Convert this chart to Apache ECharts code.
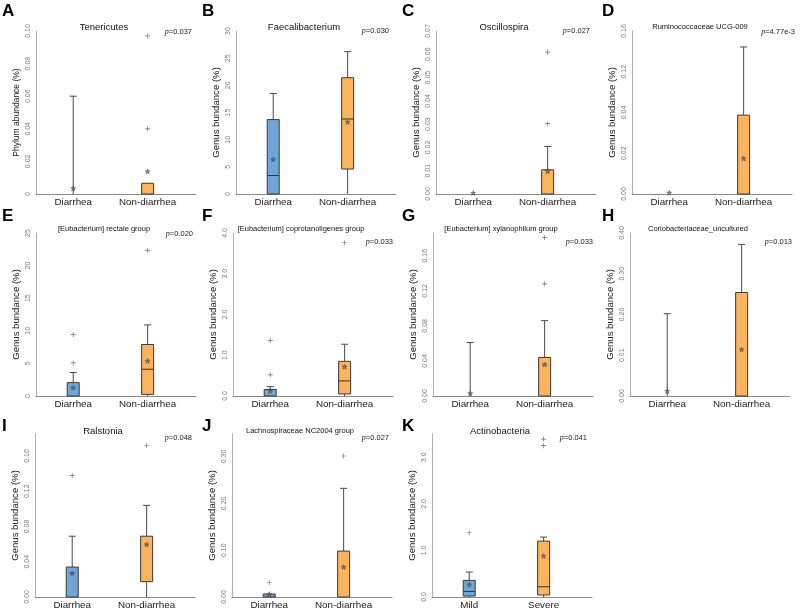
<!DOCTYPE html>
<html>
<head>
<meta charset="utf-8">
<script src="https://cdn.jsdelivr.net/npm/echarts@6/dist/echarts.min.js"></script>
<style>html,body{margin:0;padding:0;background:#fff}#c{width:800px;height:610px}</style>
</head>
<body>
<div id="c"></div>
<script>
// ---------- data ----------
const panelLetters = ['A','B','C','D','E','F','G','H','I','J','K'];
const panelTitles = ['Tenericutes','Faecalibacterium','Oscillospira','Ruminococcaceae UCG-009',
  '[Eubacterium] rectale group','[Eubacterium] coprotanoligenes group','[Eubacterium] xylanophilum group',
  'Coriobacteriaceae_uncultured','Ralstonia','Lachnospiraceae NC2004 group','Actinobacteria'];
const pValues = ['0.037','0.030','0.027','4.77e-3','0.020','0.033','0.033','0.013','0.048','0.027','0.041'];
const yNames = ['Phylum abundance (%)','Genus bundance (%)','Genus bundance (%)','Genus bundance (%)',
  'Genus bundance (%)','Genus bundance (%)','Genus bundance (%)','Genus bundance (%)',
  'Genus bundance (%)','Genus bundance (%)','Genus bundance (%)'];
const groupNames = [
  ['Diarrhea','Non-diarrhea'],['Diarrhea','Non-diarrhea'],['Diarrhea','Non-diarrhea'],['Diarrhea','Non-diarrhea'],
  ['Diarrhea','Non-diarrhea'],['Diarrhea','Non-diarrhea'],['Diarrhea','Non-diarrhea'],['Diarrhea','Non-diarrhea'],
  ['Diarrhea','Non-diarrhea'],['Diarrhea','Non-diarrhea'],['Mild','Severe']];
// axis ranges and tick labels (labels as printed in the figure)
const yMax  = [0.10, 30, 0.07, 0.16, 25, 4.0, 0.186, 0.40, 0.185, 0.348, 3.5];
const yStep = [0.02, 5, 0.01, 0.04, 5, 1.0, 0.04, 0.10, 0.04, 0.10, 1.0];
const yTickLabels = [
  ['0','0.02','0.04','0.06','0.08','0.10'],
  ['0','5','10','15','20','25','30'],
  ['0.00','0.01','0.02','0.03','0.04','0.05','0.06','0.07'],
  ['0.00','0.02','0.04','0.12','0.16'],
  ['0','5','10','15','20','25'],
  ['0.0','1.0','2.0','3.0','4.0'],
  ['0.00','0.04','0.08','0.12','0.16'],
  ['0.00','0.01','0.20','0.30','0.40'],
  ['0.00','0.04','0.08','0.12','0.16'],
  ['0.00','0.10','0.20','0.30'],
  ['0.0','1.0','2.0','3.0']];
// box statistics per group: [min, Q1, median, Q3, max]
const boxStats = [
  [[0,0,0,0,0.060],[0,0,0,0.0066,0.0066]],
  [[0,0,3.4,13.7,18.5],[0,4.6,13.8,21.4,26.2]],
  [[0,0,0,0,0],[0,0,0,0.0104,0.0204]],
  [[0,0,0,0,0],[0,0,0,0.0774,0.1443]],
  [[0,0,0,2.05,3.6],[0,0.25,4.1,7.9,10.9]],
  [[0,0,0,0.16,0.23],[0,0.05,0.37,0.85,1.27]],
  [[0,0,0,0,0.061],[0,0,0,0.044,0.086]],
  [[0,0,0,0,0.202],[0,0,0,0.254,0.372]],
  [[0,0,0,0.034,0.069],[0,0.0174,0.0174,0.069,0.104]],
  [[0,0,0,0.0064,0.0064],[0,0,0,0.098,0.232]],
  [[0,0.02,0.12,0.357,0.536],[0,0.043,0.22,1.2,1.286]]];
const meanValues = [
  [0.0035,0.0138],[6.4,13.25],[0.0004,0.0098],[0.0012,0.0349],[1.28,5.38],[0.13,0.72],
  [0.003,0.036],[0.012,0.114],[0.027,0.0596],[0.006,0.064],[0.264,0.88]];
const outlierValues = [
  [[],[0.097,0.040]],
  [[],[]],
  [[],[0.0302,0.0609]],
  [[],[]],
  [[5.07,9.45],[22.3]],
  [[0.52,1.36],[3.76]],
  [[],[0.128,0.181]],
  [[],[]],
  [[0.138],[0.172]],
  [[0.031],[0.301]],
  [[1.38],[3.25,3.39]]];

// ---------- layout ----------
const groupColors = ['#6fa6d6','#fbb35e'];
const rowTop = [31, 233, 434];
const rowH = [163, 163, 164];
const colLeft = [[36,236,436,632],[36,233,433,630],[35,232,432]];
const colStart = [0,200,400,600];
const letterY = [11, 216, 426];
const titleY = [27, 229, 431];
const pY = [[32,31,31,32],[234,242,242,242],[438,438,438]];
const pRight = [[192,389,590,795],[193,393,593,792],[192,389,587]];
const smallTitle = [false,false,false,true,true,true,true,true,false,true,false];
const GW = 160, XMAX = 2.15;

const grids = [], xAxes = [], yAxes = [], series = [], graphics = [];
const starPath = 'path://M5,0L6.2,3.8L10,3.8L6.9,6.1L8.1,10L5,7.6L1.9,10L3.1,6.1L0,3.8L3.8,3.8Z';
const plusPath = 'path://M4.35,0h1.3v4.35h4.35v1.3h-4.35v4.35h-1.3v-4.35h-4.35v-1.3h4.35z';

for (let i = 0; i < 11; i++) {
  const r = Math.floor(i / 4), c = i % 4;
  const left = colLeft[r][c];
  grids.push({left: left, top: rowTop[r], width: GW, height: rowH[r], containLabel: false});
  const names = groupNames[i];
  xAxes.push({
    gridIndex: i, type: 'value', min: 0, max: XMAX, interval: 0.5,
    axisLine: {show: true, lineStyle: {color: '#8a8a8a', width: 1}},
    axisTick: {show: false}, splitLine: {show: false},
    axisLabel: {
      margin: 3, fontSize: 9.8, color: '#222', fontFamily: 'Liberation Sans, Arial',
      showMaxLabel: false,
      formatter: function (v) {
        if (Math.abs(v - 0.5) < 1e-6) return names[0];
        if (Math.abs(v - 1.5) < 1e-6) return names[1];
        return '';
      }
    }
  });
  const labels = yTickLabels[i], step = yStep[i];
  yAxes.push({
    gridIndex: i, type: 'value', min: 0, max: yMax[i], interval: step,
    name: yNames[i], nameLocation: 'middle', nameGap: 15,
    nameTextStyle: {fontSize: (i === 0 ? 8.5 : 9.6), color: '#222', fontFamily: 'Liberation Sans, Arial'},
    axisLine: {show: true, lineStyle: {color: '#b0b0b0', width: 1}},
    axisTick: {show: false}, splitLine: {show: false},
    axisLabel: {
      rotate: 90, margin: 4, fontSize: 7, color: '#7a7a7a', fontFamily: 'Liberation Sans, Arial',
      showMaxLabel: true,
      formatter: function (v) {
        const k = Math.round(v / step);
        if (Math.abs(k * step - v) > step * 1e-3) return '';
        return labels[k] !== undefined ? labels[k] : '';
      }
    }
  });
  // boxes
  const boxData = boxStats[i].map((s, g) => [g + 0.5, s[0], s[1], s[2], s[3], s[4], g]);
  series.push({
    type: 'custom', xAxisIndex: i, yAxisIndex: i, data: boxData, clip: false, z: 2,
    renderItem: function (params, api) {
      const xv = api.value(0);
      const x = api.coord([xv, 0])[0];
      const yMin = api.coord([xv, api.value(1)])[1];
      const yQ1 = api.coord([xv, api.value(2)])[1];
      const yMed = api.coord([xv, api.value(3)])[1];
      const yQ3 = api.coord([xv, api.value(4)])[1];
      const yMx = api.coord([xv, api.value(5)])[1];
      const g = api.value(6);
      const hw = 6, cw = 3.5;
      const wl = {stroke: '#4a4a4a', lineWidth: 1};
      const ch = [];
      if (yMx < yQ3 - 0.5) {
        ch.push({type: 'line', shape: {x1: x, y1: yQ3, x2: x, y2: yMx}, style: wl});
        ch.push({type: 'line', shape: {x1: x - cw, y1: yMx, x2: x + cw, y2: yMx}, style: wl});
      }
      if (yMin > yQ1 + 0.5) {
        ch.push({type: 'line', shape: {x1: x, y1: yQ1, x2: x, y2: yMin}, style: wl});
      }
      if (yQ1 - yQ3 > 0.5) {
        ch.push({type: 'rect', shape: {x: x - hw, y: yQ3, width: 2 * hw, height: yQ1 - yQ3},
          style: {fill: groupColors[g], stroke: '#3a3a3a', lineWidth: 1}});
        if (yMed < yQ1 - 0.5 && yMed > yQ3 + 0.5)
          ch.push({type: 'line', shape: {x1: x - hw, y1: yMed, x2: x + hw, y2: yMed},
            style: {stroke: '#333', lineWidth: 1}});
      }
      return {type: 'group', children: ch};
    }
  });
  // outliers
  const out = [];
  outlierValues[i].forEach((arr, g) => arr.forEach(v => out.push([g + 0.5, v])));
  series.push({type: 'scatter', xAxisIndex: i, yAxisIndex: i, data: out, symbol: plusPath,
    symbolSize: 5, itemStyle: {color: '#444'}, z: 4, silent: true});
  // means
  const mean = meanValues[i].map((v, g) => [g + 0.5, v]);
  series.push({type: 'scatter', xAxisIndex: i, yAxisIndex: i, data: mean, symbol: starPath,
    symbolSize: 5, itemStyle: {color: '#666', borderColor: '#333', borderWidth: 0.5}, z: 5, silent: true});

  // texts
  graphics.push({type: 'text', x: colStart[c] + 2, y: letterY[r],
    style: {text: panelLetters[i], font: 'bold 17px "Liberation Sans", Arial', fill: '#000',
      align: 'left', verticalAlign: 'middle'}});
  graphics.push({type: 'text', x: left + 68, y: titleY[r],
    style: {text: panelTitles[i], font: (smallTitle[i] ? '7.5px' : '9.5px') + ' "Liberation Sans", Arial',
      fill: '#111', align: 'center', verticalAlign: 'middle'}});
  graphics.push({type: 'text', x: pRight[r][c], y: pY[r][c],
    style: {text: '{i|p}=' + pValues[i], fill: '#222', align: 'right', verticalAlign: 'middle',
      font: '7.5px "Liberation Sans", Arial',
      rich: {i: {fontStyle: 'italic', fontFamily: 'Liberation Serif', fontSize: 8, fill: '#222'}}}});
}

const chart = echarts.init(document.getElementById('c'), null, {renderer: 'canvas'});
chart.setOption({
  animation: false,
  backgroundColor: '#fff',
  grid: grids, xAxis: xAxes, yAxis: yAxes, series: series, graphic: graphics
});
</script>
</body>
</html>
